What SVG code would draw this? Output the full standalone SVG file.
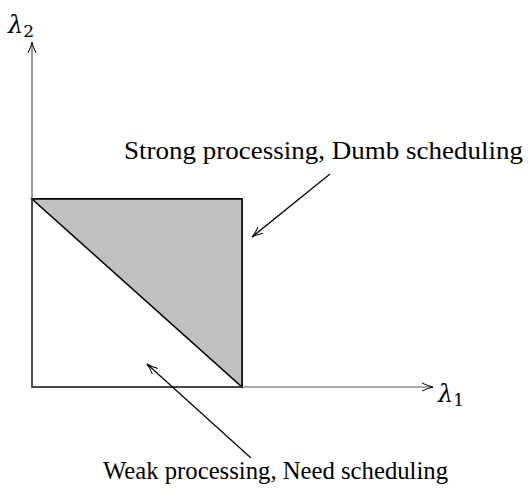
<svg xmlns="http://www.w3.org/2000/svg" width="528" height="500" viewBox="0 0 528 500">
<style>
.ax{stroke:#555;stroke-width:1.2;fill:none}
.ln{stroke:#000;stroke-width:1.2;fill:none}
.t{font-family:"Liberation Serif","Times New Roman",serif;font-size:25.5px;fill:#000}
.m{font-family:"DejaVu Serif","Liberation Serif",serif;font-style:italic;fill:#000}
</style>
<defs>
<marker id="v" viewBox="0 0 12 10" refX="11" refY="5" markerWidth="12" markerHeight="10" markerUnits="userSpaceOnUse" orient="auto">
<path d="M0,1 Q6,4 11,5 Q6,6 0,9" fill="none" stroke="#000" stroke-width="1"/>
</marker>
</defs>
<g id="region">
<rect x="32" y="199" width="210" height="188" fill="#fff" stroke="#000" stroke-width="1.5"/>
<polygon points="32,199 242,199 242,387" fill="#c0c0c0" stroke="#000" stroke-width="1.5"/>
</g>
<g id="axes">
<line class="ax" x1="32" y1="387" x2="32" y2="42" marker-end="url(#v)"/>
<line class="ax" x1="32" y1="387" x2="433" y2="387" marker-end="url(#v)"/>
</g>
<g id="connectors">
<line class="ln" x1="330" y1="174" x2="252" y2="237" marker-end="url(#v)"/>
<line class="ln" x1="251" y1="458" x2="147" y2="364" marker-end="url(#v)"/>
</g>
<g id="labels">
<text class="m" x="8" y="33" font-size="24">λ<tspan font-size="17" font-style="normal" dy="4">2</tspan></text>
<text class="m" x="438" y="402" font-size="24">λ<tspan font-size="17" font-style="normal" dy="4">1</tspan></text>
<text class="t" x="124" y="159" textLength="399" lengthAdjust="spacingAndGlyphs">Strong processing, Dumb scheduling</text>
<text class="t" x="103" y="479" textLength="345" lengthAdjust="spacingAndGlyphs">Weak processing, Need scheduling</text>
</g>
</svg>
